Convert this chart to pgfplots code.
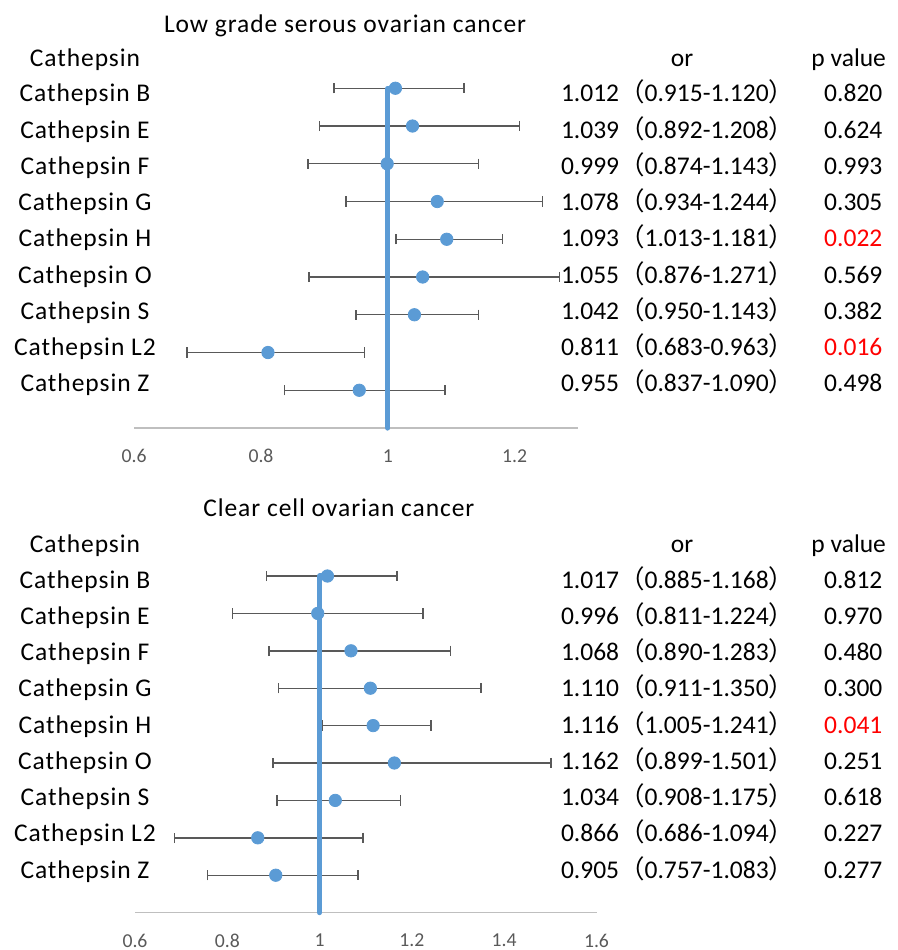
\documentclass[border=0pt]{standalone}
\usepackage{fontspec}
\usepackage{pgfplots}
\usepackage{pgfplotstable}
\pgfplotsset{compat=1.18}
\setmainfont{Carlito}
\newfontfamily\lblfont[LetterSpace=3.7]{Carlito}
\newfontfamily\cjk{Noto Sans CJK SC}
\definecolor{bluedot}{HTML}{5B9BD5}
\definecolor{errgray}{HTML}{595959}
\definecolor{axgray}{HTML}{BFBFBF}
\definecolor{pred}{HTML}{FF0000}
\newcommand\mainsize{\fontsize{12.75pt}{15pt}\selectfont}
\newcommand\ticksize{\fontsize{9.85pt}{12pt}\selectfont}

\pgfplotstableread{
y est lo hi
9 1.012 0.915 1.120
8 1.039 0.892 1.208
7 0.999 0.874 1.143
6 1.078 0.934 1.244
5 1.093 1.013 1.181
4 1.055 0.876 1.271
3 1.042 0.950 1.143
2 0.811 0.683 0.963
1 0.955 0.837 1.090
}\lgsoc
\pgfplotstableread{
y est lo hi
9 1.017 0.885 1.168
8 0.996 0.811 1.224
7 1.068 0.890 1.283
6 1.110 0.911 1.350
5 1.116 1.005 1.241
4 1.162 0.899 1.501
3 1.034 0.908 1.175
2 0.866 0.686 1.094
1 0.905 0.757 1.083
}\ccoc

\pgfplotsset{forest/.style={
  scale only axis, anchor=south west,
  ymin=0, ymax=10, xmin=0.6,
  axis x line*=bottom, axis y line=none,
  x axis line style={draw=axgray, line width=0.6pt, -},
  ytick=\empty,
  major tick length=0pt,
  xticklabel style={font=\ticksize, text=errgray, anchor=center, yshift=-14pt},
  /pgf/number format/assume math mode=true,
  clip=false,
},
dots/.style={only marks, mark=*, color=bluedot, mark size=3.1pt,
  error bars/.cd, x dir=both, x explicit,
  error bar style={draw=errgray, line width=0.7pt},
  error mark=|,
  error mark options={draw=errgray, line width=0.7pt, mark size=2.6pt}},
refline/.style={bluedot, line width=2.6pt, line cap=round, line join=round}
}

\begin{document}
\begin{tikzpicture}
\path[use as bounding box] (0pt,0pt) rectangle (449pt,-475pt);

\begin{axis}[forest, at={(67.1pt,-214pt)}, width=221.9pt, height=188.75pt,
  xmax=1.3, xtick={0.6,0.8,1,1.2}]
\addplot[dots] table[x=est, y=y,
  x error plus expr=\thisrow{hi}-\thisrow{est},
  x error minus expr=\thisrow{est}-\thisrow{lo}] {\lgsoc};
\addplot[refline] coordinates {(1,0) (1,9) (1.012,9)};
\end{axis}

\begin{axis}[forest, at={(67.5pt,-456.3pt)}, width=230.75pt, height=187pt,
  xmax=1.6, xtick={0.6,0.8,1,1.2,1.4,1.6}]
\addplot[dots] table[x=est, y=y,
  x error plus expr=\thisrow{hi}-\thisrow{est},
  x error minus expr=\thisrow{est}-\thisrow{lo}] {\ccoc};
\addplot[refline] coordinates {(1,0) (1,9) (1.017,9)};
\end{axis}

\begin{scope}[x=0.5pt, y=-0.5pt, every node/.style={inner sep=0pt, outer sep=0pt}]
% top panel
\node[anchor=base west, font=\lblfont\mainsize] at (164,32.4) {Low grade serous ovarian cancer};
\node[anchor=base, font=\lblfont\mainsize] at (85,66) {Cathepsin};
\node[anchor=base, font=\mainsize] at (682,66) {or};
\node[anchor=base, font=\mainsize] at (848.7,66) {p value};
\foreach \lab/\orv/\ci/\p/\col [count=\k from 0] in {
  B/1.012/0.915-1.120/0.820/black,
  E/1.039/0.892-1.208/0.624/black,
  F/0.999/0.874-1.143/0.993/black,
  G/1.078/0.934-1.244/0.305/black,
  H/1.093/1.013-1.181/0.022/pred,
  O/1.055/0.876-1.271/0.569/black,
  S/1.042/0.950-1.143/0.382/black,
  L2/0.811/0.683-0.963/0.016/pred,
  Z/0.955/0.837-1.090/0.498/black}{
  \node[anchor=base, font=\lblfont\mainsize] at (85,{101.9+36.25*\k}) {Cathepsin \lab};
  \node[anchor=base west, font=\mainsize] at (561,{101.9+36.25*\k}) {\orv{\cjk （}\ci{\cjk ）}};
  \node[anchor=base, font=\mainsize, text=\col] at (853.3,{101.9+36.25*\k}) {\p};
}
% bottom panel
\node[anchor=base west, font=\lblfont\mainsize] at (203.3,516.7) {Clear cell ovarian cancer};
\node[anchor=base, font=\lblfont\mainsize] at (85,552.3) {Cathepsin};
\node[anchor=base, font=\mainsize] at (682,552.3) {or};
\node[anchor=base, font=\mainsize] at (848.7,552.3) {p value};
\foreach \lab/\orv/\ci/\p/\col [count=\k from 0] in {
  B/1.017/0.885-1.168/0.812/black,
  E/0.996/0.811-1.224/0.970/black,
  F/1.068/0.890-1.283/0.480/black,
  G/1.110/0.911-1.350/0.300/black,
  H/1.116/1.005-1.241/0.041/pred,
  O/1.162/0.899-1.501/0.251/black,
  S/1.034/0.908-1.175/0.618/black,
  L2/0.866/0.686-1.094/0.227/black,
  Z/0.905/0.757-1.083/0.277/black}{
  \node[anchor=base, font=\lblfont\mainsize] at (85,{588.2+36.25*\k}) {Cathepsin \lab};
  \node[anchor=base west, font=\mainsize] at (561,{588.2+36.25*\k}) {\orv{\cjk （}\ci{\cjk ）}};
  \node[anchor=base, font=\mainsize, text=\col] at (853.3,{588.2+36.25*\k}) {\p};
}
\end{scope}
\end{tikzpicture}
\end{document}
